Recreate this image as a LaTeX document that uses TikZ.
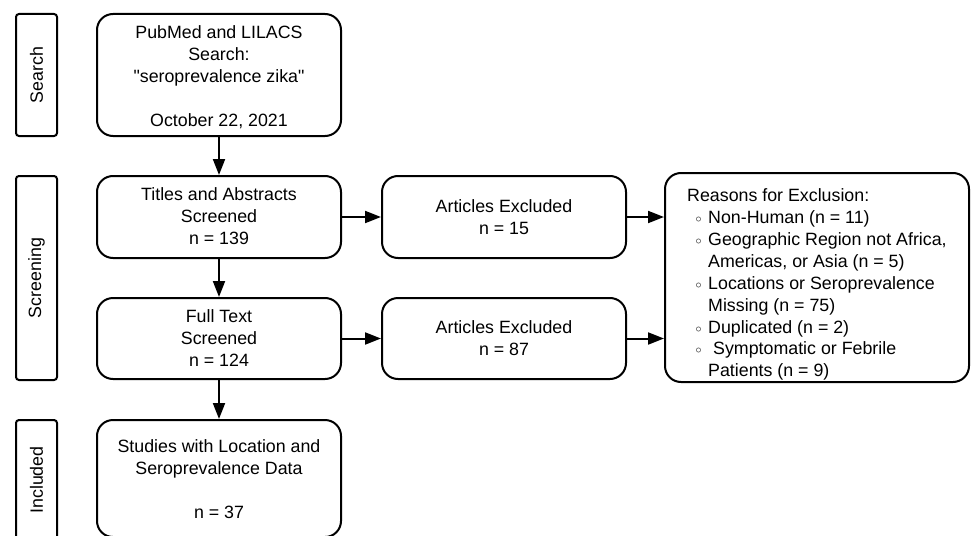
\documentclass[tikz,border=0pt]{standalone}
\usepackage{fontspec}
\setmainfont{Liberation Sans}
\usetikzlibrary{arrows.meta}
\newcommand{\bul}{\makebox[21pt][l]{\hspace{8.5pt}\raisebox{1pt}{$\scriptstyle\circ$}}}
\newcommand{\ind}{\hspace*{21pt}}
\begin{document}
\begin{tikzpicture}[x=1pt,y=-1pt,
  every node/.style={font=\fontsize{17.8}{21.9}\selectfont},
  box/.style={draw, line width=2pt, rounded corners=16pt, align=center, inner sep=0pt},
  lab/.style={draw, line width=2pt, rounded corners=3pt, inner sep=0pt, minimum width=41pt},
  labtext/.style={rotate=90, inner sep=0pt},
  arr/.style={line width=2pt, -{Triangle[length=16pt,width=12pt]}}
]
\useasboundingbox (0,0) rectangle (971,535);
\clip (0,0) rectangle (971,535);
% phase labels
\node[lab, minimum height=122pt] (lsearch) at (36.5,75) {};
\node[labtext] (tsearch) at (lsearch.center) {Search};
\node[lab, minimum height=204pt] (lscreen) at (36.5,278) {};
\node[labtext] (tscreen) at (lscreen.center) {Screening};
\node[lab, minimum height=130pt] (lincl) at (36.5,485) {};
\node[labtext] (tincl) at (36.5,480) {Included};
% main column
\node[box, minimum width=244pt, minimum height=122pt] (search) at (219,75) {};
\node[align=center, inner sep=0pt] (searchtext) at (219,77)
  {PubMed and LILACS\\Search:\\\textquotedbl seroprevalence zika\textquotedbl\\[21.9pt]October 22, 2021};
\node[box, minimum width=244pt, minimum height=82pt] (titles) at (219,217) {};
\node[align=center, inner sep=0pt] (titlestext) at (219,216)
  {Titles and Abstracts\\Screened\\n = 139};
\node[box, minimum width=244pt, minimum height=81pt] (full) at (219,338.5) {};
\node[align=center, inner sep=0pt] (fulltext) at (219,338)
  {Full Text\\Screened\\n = 124};
\node[box, minimum width=244pt, minimum height=117pt] (incl) at (219,478.5) {};
\node[align=center, inner sep=0pt] (incltext) at (219,479)
  {Studies with Location and\\Seroprevalence Data\\[21.9pt]n = 37};
% excluded
\node[box, minimum width=244pt, minimum height=82pt] (ex1) at (504,217)
  {Articles Excluded\\n = 15};
\node[box, minimum width=244pt, minimum height=81pt] (ex2) at (504,338.5)
  {Articles Excluded\\n = 87};
% reasons
\node[box, minimum width=304pt, minimum height=209pt] (reasons) at (817,277.5) {};
\node[anchor=north west, inner sep=0pt, align=left] (reasontext) at (687,188.5)
  {Reasons for Exclusion:\\
   \bul Non-Human (n = 11)\\
   \bul Geographic Region not Africa,\\
   \ind Americas, or Asia (n = 5)\\
   \bul Locations or Seroprevalence\\
   \ind Missing (n = 75)\\
   \bul Duplicated (n = 2)\\
   \bul \hspace{5pt}Symptomatic or Febrile\\
   \ind Patients (n = 9)};
% connectors
\draw[arr] (search.south) -- (titles.north);
\draw[arr] (titles.south) -- (full.north);
\draw[arr] (full.south) -- (incl.north);
\draw[arr] (titles.east) -- (ex1.west);
\draw[arr] (full.east) -- (ex2.west);
\draw[arr] (ex1.east) -- (ex1.east -| reasons.west);
\draw[arr] (ex2.east) -- (ex2.east -| reasons.west);
\end{tikzpicture}
\end{document}
